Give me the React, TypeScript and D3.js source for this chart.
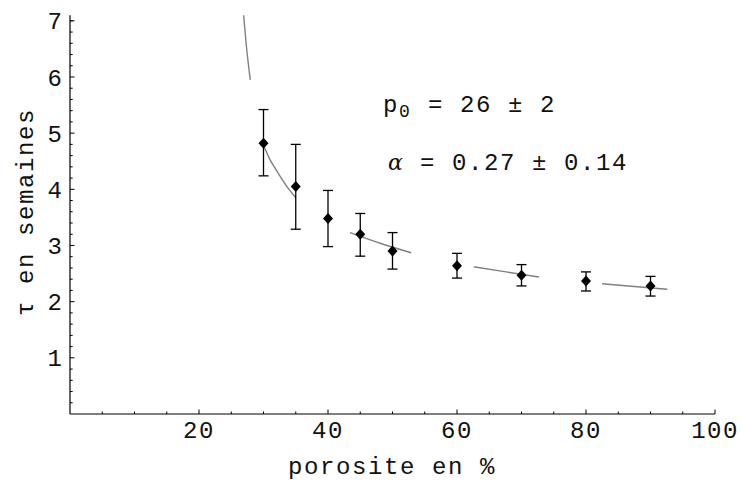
import React from "react";
import * as d3 from "d3";

// ---- data ----
const porosity = [30, 35, 40, 45, 50, 60, 70, 80, 90];
const tau = [4.82, 4.05, 3.48, 3.2, 2.9, 2.64, 2.47, 2.37, 2.28];
const tauLow = [4.24, 3.29, 2.98, 2.81, 2.58, 2.42, 2.28, 2.19, 2.1];
const tauHigh = [5.42, 4.8, 3.98, 3.57, 3.23, 2.86, 2.66, 2.53, 2.45];

const fitDash1: [number, number][] = [[26.92, 7.1], [27.33, 6.57], [27.95, 5.95]];
const fitDash2: [number, number][] = [[29.95, 4.8], [31.05, 4.52], [32.1, 4.32], [33.5, 4.07], [35.0, 3.85]];
const fitDash3: [number, number][] = [[43.4, 3.23], [48.1, 3.04], [52.9, 2.87]];
const fitDash4: [number, number][] = [[62.6, 2.62], [67.6, 2.53], [72.7, 2.44]];
const fitDash5: [number, number][] = [[82.5, 2.32], [87.5, 2.27], [92.6, 2.22]];
const fitDashes = [fitDash1, fitDash2, fitDash3, fitDash4, fitDash5];

const xMajorTicks = [20, 40, 60, 80, 100];
const xMinorTicks = [5, 10, 15, 25, 30, 35, 45, 50, 55, 65, 70, 75, 85, 90, 95];
const yMajorTicks = [1, 2, 3, 4, 5, 6, 7];
const yMinorTicks = [0.2, 0.4, 0.6, 0.8, 1.2, 1.4, 1.6, 1.8, 2.2, 2.4, 2.6, 2.8, 3.2, 3.4, 3.6, 3.8, 4.2, 4.4, 4.6, 4.8, 5.2, 5.4, 5.6, 5.8, 6.2, 6.4, 6.6, 6.8, 7.0];

const xTitle = "porosite en %";
const yTitle = "τ en semaines";
const annP0 = "= 26 ± 2";
const annAlpha = "= 0.27 ± 0.14";

const FONT = "'Liberation Mono', 'DejaVu Sans Mono', monospace";

export default function App() {
  const W = 742, H = 482;
  const x = d3.scaleLinear().domain([0, 100]).range([70, 715]);
  const y = d3.scaleLinear().domain([0, 7.1]).range([414, 15.2]);
  const line = d3
    .line<[number, number]>()
    .x((d) => x(d[0]))
    .y((d) => y(d[1]))
    .curve(d3.curveMonotoneX);

  const diamond = "M0,-5.5L5,0L0,5.5L-5,0Z";

  return (
    <svg
      width={W}
      height={H}
      style={{ position: "absolute", left: 0, top: 0, background: "#fff" }}
    >
      <rect width={W} height={H} fill="#fff" />
      {/* axes */}
      <line x1={x(0)} x2={x(100)} y1={y(0)} y2={y(0)} stroke="#000" strokeWidth={1.2} />
      <line x1={x(0)} x2={x(0)} y1={y(0)} y2={y(7.1)} stroke="#000" strokeWidth={1.2} />
      {xMajorTicks.map((t) => (
        <g key={"xm" + t}>
          <line x1={x(t)} x2={x(t)} y1={y(0)} y2={y(0) - 4.5} stroke="#000" strokeWidth={1} />
          <text
            x={x(t)}
            y={438}
            textAnchor="middle"
            fontFamily={FONT}
            fontSize={24}
            letterSpacing={1.5}
            fill="#111"
          >
            {t}
          </text>
        </g>
      ))}
      {xMinorTicks.map((t) => (
        <line key={"xn" + t} x1={x(t)} x2={x(t)} y1={y(0)} y2={y(0) - 2.5} stroke="#000" strokeWidth={1} />
      ))}
      {yMajorTicks.map((t) => (
        <g key={"ym" + t}>
          <line x1={x(0)} x2={x(0) + 4.5} y1={y(t)} y2={y(t)} stroke="#000" strokeWidth={1} />
          <text
            x={62}
            y={y(t)}
            dy="0.36em"
            textAnchor="end"
            fontFamily={FONT}
            fontSize={24}
            fill="#111"
          >
            {t}
          </text>
        </g>
      ))}
      {yMinorTicks.map((t) => (
        <line key={"yn" + t} x1={x(0)} x2={x(0) + 2.7} y1={y(t)} y2={y(t)} stroke="#000" strokeWidth={1} />
      ))}

      {/* axis titles */}
      <text x={392} y={474} textAnchor="middle" fontFamily={FONT} fontSize={24} letterSpacing={1.6} fill="#111">
        {xTitle}
      </text>
      <text
        transform="translate(33,212) rotate(-90)"
        textAnchor="middle"
        fontFamily={FONT}
        fontSize={24}
        letterSpacing={1.6}
        fill="#111"
      >
        {yTitle}
      </text>

      {/* fit curve */}
      {fitDashes.map((seg, i) => (
        <path key={"f" + i} d={line(seg) || ""} fill="none" stroke="#808080" strokeWidth={1.4} />
      ))}

      {/* error bars + points */}
      {porosity.map((p, i) => (
        <g key={"pt" + p}>
          <line x1={x(p)} x2={x(p)} y1={y(tauLow[i])} y2={y(tauHigh[i])} stroke="#000" strokeWidth={1.3} />
          <line x1={x(p) - 5} x2={x(p) + 5} y1={y(tauLow[i])} y2={y(tauLow[i])} stroke="#000" strokeWidth={1.3} />
          <line x1={x(p) - 5} x2={x(p) + 5} y1={y(tauHigh[i])} y2={y(tauHigh[i])} stroke="#000" strokeWidth={1.3} />
          <path d={diamond} transform={`translate(${x(p)},${y(tau[i])})`} fill="#000" />
        </g>
      ))}

      {/* annotations */}
      <text x={383} y={112} fontFamily={FONT} fontSize={24} fill="#111">p</text>
      <text x={399} y={117} fontFamily={FONT} fontSize={18} fill="#111">0</text>
      <text x={428} y={112} fontFamily={FONT} fontSize={24} letterSpacing={1.6} fill="#111">
        {annP0}
      </text>
      <text x={388} y={170} fontFamily="'DejaVu Serif', serif" fontStyle="italic" fontSize={22} fill="#111">
        α
      </text>
      <text x={420} y={170} fontFamily={FONT} fontSize={24} letterSpacing={1.6} fill="#111">
        {annAlpha}
      </text>
    </svg>
  );
}
